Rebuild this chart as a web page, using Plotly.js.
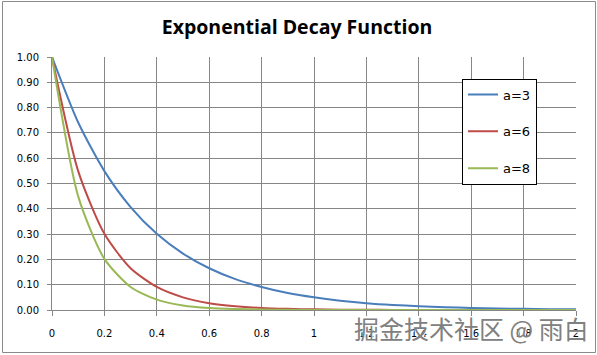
<!DOCTYPE html>
<html>
<head>
<meta charset="utf-8">
<script src="https://cdn.plot.ly/plotly-3.0.1.min.js"></script>
<style>
html,body{margin:0;padding:0;background:#fff;}
#chart{width:597px;height:355px;}
</style>
</head>
<body>
<div id="chart"></div>
<script>
// x positions (category steps of 0.1)
const xValues = [0,0.1,0.2,0.3,0.4,0.5,0.6,0.7,0.8,0.9,1.0,1.1,1.2,1.3,1.4,1.5,1.6,1.7,1.8,1.9,2.0];
// values
const seriesA3 = [1.00,0.741,0.549,0.407,0.301,0.223,0.165,0.122,0.091,0.067,0.050,0.037,0.027,0.020,0.015,0.011,0.008,0.006,0.0045,0.0033,0.0025];
const seriesA6 = [1.00,0.549,0.301,0.165,0.091,0.050,0.027,0.015,0.008,0.0045,0.0025,0.0014,0.0007,0.0004,0.0002,0.0001,0.0001,0.0,0.0,0.0,0.0];
const seriesA8 = [1.00,0.449,0.202,0.091,0.041,0.018,0.008,0.0037,0.0017,0.0007,0.0003,0.0002,0.0001,0.0,0.0,0.0,0.0,0.0,0.0,0.0,0.0];
const seriesNames = ['a=3','a=6','a=8'];
const seriesColors = ['#4A7EBB','#BE4B48','#98B954'];
const titleText = 'Exponential Decay Function';
const watermarkText = '掘金技术社区 @ 雨白';

const allSeries = [seriesA3, seriesA6, seriesA8];
const traces = allSeries.map((ys, i) => ({
  x: xValues, y: ys, type: 'scatter', mode: 'lines',
  name: seriesNames[i], legendgroup: 'g' + i,
  line: {color: seriesColors[i], width: 2, shape: 'spline', smoothing: 0.7}
}));

const gridColor = '#868686';
const L = 52, R = 21, T = 57, B = 45, W = 597, H = 355;
const pw = W - L - R, ph = H - T - B;
const px2x = p => (p - L) / pw;
const px2y = p => (H - B - p) / ph;

const layout = {
  width: W, height: H,
  margin: {l: L, r: R, t: T, b: B, pad: 0},
  paper_bgcolor: '#ffffff', plot_bgcolor: '#ffffff',
  title: {text: '<b>' + titleText + '</b>', x: 297/W, xanchor: 'center', y: 1 - 27/H, yanchor: 'middle',
          xref: 'container', yref: 'container',
          font: {family: 'Open Sans, sans-serif', size: 19.5, color: '#000'}},
  xaxis: {range: [0, 2], dtick: 0.2, tick0: 0, showgrid: true, gridcolor: gridColor, gridwidth: 1,
          zeroline: false, showline: true, linecolor: gridColor, linewidth: 1,
          ticks: 'outside', ticklen: 5, tickcolor: gridColor, tickwidth: 1, ticklabelstandoff: 9,
          tickfont: {family: 'DejaVu Sans, Verdana, sans-serif', size: 10, color: '#000'}, fixedrange: true},
  yaxis: {range: [0, 1], dtick: 0.1, tick0: 0, tickformat: '.2f', showgrid: true, gridcolor: gridColor, gridwidth: 1,
          zeroline: false, showline: true, linecolor: gridColor, linewidth: 1,
          ticks: 'outside', ticklen: 4, tickcolor: gridColor, tickwidth: 1, ticklabelstandoff: 6,
          tickfont: {family: 'DejaVu Sans, Verdana, sans-serif', size: 10, color: '#000'}, fixedrange: true},
  showlegend: true,
  legend: {x: px2x(462), xanchor: 'left', y: px2y(78.5), yanchor: 'top',
           bgcolor: '#ffffff', bordercolor: '#000000', borderwidth: 1,
           tracegroupgap: 17, itemwidth: 30,
           font: {family: 'DejaVu Sans, Verdana, sans-serif', size: 13, color: '#000'}},
  shapes: [{type: 'rect', xref: 'paper', yref: 'paper',
            x0: px2x(2.5), x1: px2x(595.5), y0: px2y(352.5), y1: px2y(1.5),
            line: {color: '#8a8a8a', width: 1}, fillcolor: 'rgba(0,0,0,0)', layer: 'below'}],
  annotations: [{text: watermarkText, xref: 'paper', yref: 'paper', x: px2x(471), y: px2y(328),
                 xanchor: 'center', yanchor: 'middle', showarrow: false,
                 font: {family: 'Noto Sans CJK SC, sans-serif', size: 25, color: '#808080',
                        shadow: '1px 1px 1px #ffffff'}}]
};

Plotly.newPlot('chart', traces, layout, {displayModeBar: false, staticPlot: true});
</script>
</body>
</html>
